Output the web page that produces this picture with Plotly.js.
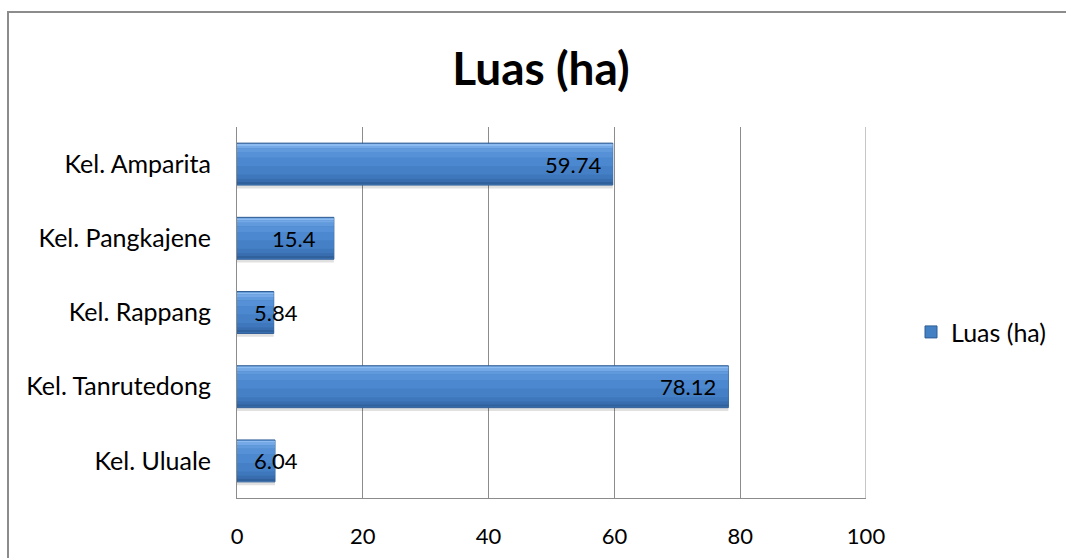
<!DOCTYPE html>
<html>
<head>
<meta charset="utf-8">
<script src="https://cdn.plot.ly/plotly-3.0.1.min.js"></script>
<style>
html,body{margin:0;padding:0;background:#fff;overflow:hidden;}
#chart{width:1066px;height:558px;}
</style>
</head>
<body>
<div id="chart"></div>
<script>
// ---- data ----
var categories = ["Kel. Amparita", "Kel. Pangkajene", "Kel. Rappang", "Kel. Tanrutedong", "Kel. Uluale"];
var luas = [59.74, 15.4, 5.84, 78.12, 6.04];
var valueLabels = ["59.74", "15.4", "5.84", "78.12", "6.04"];
var seriesName = "Luas (ha)";
var titleText = "Luas (ha)";
var xTicks = [0, 20, 40, 60, 80, 100];

// ---- layout geometry ----
var W = 1066, H = 558;
var M = {l: 237, r: 200, t: 127, b: 60};
var plotW = W - M.l - M.r;
var plotH = H - M.t - M.b;
var FONT = "Lato, 'Open Sans', sans-serif";

var barW = 0.565;
var half = barW / 2;

var traces = [];
// soft shadow under each bar
traces.push({
  type: 'bar', orientation: 'h', y: categories, x: luas,
  width: 0.045, offset: half,
  marker: {color: 'rgba(0,0,0,0.12)', line: {width: 0}},
  hoverinfo: 'skip', showlegend: false
});
// base bar (carries the legend entry)
traces.push({
  type: 'bar', orientation: 'h', y: categories, x: luas, name: seriesName,
  width: barW, offset: -half,
  marker: {color: '#4480c4', line: {color: '#2f5d95', width: 1}},
  hoverinfo: 'skip', showlegend: true
});
// shading bands across the bar thickness (fractions of the bar width)
var bands = [
  [0.02, 0.05, '#8bbbf0'],
  [0.07, 0.06, '#74a8e6'],
  [0.13, 0.08, '#629bdd'],
  [0.21, 0.14, '#5690d6'],
  [0.35, 0.20, '#4c88cf'],
  [0.55, 0.20, '#4580c6'],
  [0.75, 0.10, '#3e77bb'],
  [0.85, 0.07, '#386eaf'],
  [0.92, 0.06, '#30619d']
];
bands.forEach(function (b) {
  traces.push({
    type: 'bar', orientation: 'h', y: categories, x: luas,
    width: b[1] * barW, offset: -half + b[0] * barW,
    marker: {color: b[2], line: {width: 0}},
    hoverinfo: 'skip', showlegend: false
  });
});

// data labels: Excel "inside end" placement
var pxPerUnit = plotW / (xTicks[xTicks.length - 1] - xTicks[0]);
var annotations = categories.map(function (c, i) {
  var barPx = luas[i] * pxPerUnit;
  var big = barPx > 80;
  return {
    x: big ? luas[i] : 0, y: c, xref: 'x', yref: 'y',
    text: valueLabels[i], showarrow: false,
    xanchor: 'center', yanchor: 'middle',
    xshift: big ? -40 : 39,
    font: {family: FONT, size: 22, color: '#000'}
  };
});

var layout = {
  width: W, height: H,
  margin: M,
  paper_bgcolor: '#fff', plot_bgcolor: '#fff',
  barmode: 'overlay',
  font: {family: FONT, color: '#000'},
  title: {
    text: '<b>' + titleText + '</b>',
    font: {family: FONT, size: 46, color: '#000'},
    xref: 'paper', x: (541 - M.l) / plotW, xanchor: 'center',
    yref: 'container', y: 1 - 69 / H, yanchor: 'middle'
  },
  xaxis: {
    range: [0, 100], tickvals: xTicks, ticktext: xTicks.map(String),
    showgrid: true, gridcolor: '#8c8c8c', gridwidth: 1,
    zeroline: false, showline: true, linecolor: '#8c8c8c', linewidth: 1,
    ticks: '', ticklabelstandoff: 19,
    tickfont: {family: FONT, size: 22, color: '#000'},
    fixedrange: true
  },
  yaxis: {
    type: 'category', categoryorder: 'array', categoryarray: categories,
    autorange: 'reversed',
    showgrid: false, zeroline: false, showline: true, linecolor: '#8c8c8c', linewidth: 1,
    ticks: '', ticklabelstandoff: 20,
    tickfont: {family: FONT, size: 25, color: '#000'},
    fixedrange: true
  },
  legend: {
    x: (911 - M.l) / plotW, y: 0.447, xanchor: 'left', yanchor: 'middle',
    xref: 'paper', yref: 'paper',
    font: {family: FONT, size: 25, color: '#000'},
    bgcolor: 'rgba(0,0,0,0)', itemwidth: 30
  },
  annotations: annotations,
  shapes: [{
    type: 'line', xref: 'x', yref: 'paper',
    x0: xTicks[xTicks.length - 1], x1: xTicks[xTicks.length - 1], y0: 0, y1: 1,
    line: {color: '#8c8c8c', width: 1}, layer: 'below'
  }, {
    type: 'rect', xref: 'paper', yref: 'paper',
    x0: (8 - M.l) / plotW, x1: (1075 - M.l) / plotW,
    y0: (H - M.b - 570) / plotH, y1: (H - M.b - 12) / plotH,
    line: {color: '#8c8c8c', width: 2}, fillcolor: 'rgba(0,0,0,0)', layer: 'below'
  }]
};

Plotly.newPlot('chart', traces, layout, {displayModeBar: false, staticPlot: true});
</script>
</body>
</html>
